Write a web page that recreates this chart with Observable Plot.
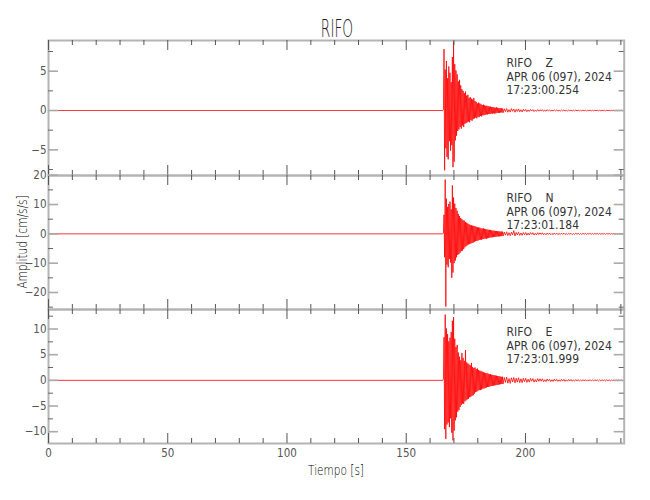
<!DOCTYPE html>
<html><head><meta charset="utf-8">
<script src="https://cdn.jsdelivr.net/npm/d3@7"></script>
<script src="https://cdn.jsdelivr.net/npm/@observablehq/plot@0.6"></script>
<style>
body{margin:0;background:#fff;}
#wrap{position:relative;width:650px;height:500px;overflow:hidden;font-family:"DejaVu Sans","Liberation Sans",sans-serif;color:#444;}
#wrap svg{position:absolute;left:0;}
.lbl{position:absolute;white-space:nowrap;line-height:1;font-weight:200;}
</style></head><body><div id="wrap"></div>
<script>
// ---- texts ----
const title = "RIFO";
const station = "RIFO";
const components = ["Z", "N", "E"];
const dateLabel = "APR 06 (097), 2024";
const startTimes = ["17:23:00.254", "17:23:01.184", "17:23:01.999"];
const xLabel = "Tiempo [s]";
const yLabel = "Amplitud [cm/s/s]";

// ---- scales / ticks ----
const xDomain = [0, 241.4];
const xMajorTicks = [0, 50, 100, 150, 200];
const xMinorTicks = [10, 20, 30, 40, 60, 70, 80, 90, 110, 120, 130, 140, 160, 170, 180, 190, 210, 220, 230, 240];
const yDomainZ = [-8.26, 8.9];
const yDomainN = [-25.8, 19.9];
const yDomainE = [-12.3, 13.8];
const yMajorZ = [-5, 0, 5];
const yMinorZ = [-7.5, -2.5, 2.5, 7.5];
const yMajorN = [-20, -10, 0, 10, 20];
const yMinorN = [-25, -15, -5, 5, 15];
const yMajorE = [-10, -5, 0, 5, 10];
const yMinorE = [-7.5, -2.5, 2.5, 7.5, 12.5];

// ---- waveform samples ----
const quietTimes = [0, 165.35];
const quietZ = [0, 0];
const quietN = [0, 0];
const quietE = [0, 0];
const denseStart = 165.6, denseStep = 0.25;
const codaStart = 190.6, codaStep = 0.5;

const denseZ = [0.1, 7.8, -7.6, 5.2, -4.8, 6.3, -5.9, 4.1, -6.2, 5.6,
 -3.9, 4.8, -5.1, 3.6, -4.4, 6.8, -7.2, 8.8, -6.5, 5.9,
 -3.8, 5.1, -3.2, 4.6, -2.6, 3.7, -2.4, 3.9, -2.1, 3.2,
 -2.3, 2.7, -1.9, 2.5, -2.1, 2.2, -1.7, 2.4, -1.6, 1.9,
 -1.5, 2.0, -1.4, 1.6, -1.5, 1.7, -1.2, 1.5, -1.3, 1.4,
 -1.1, 1.6, -1.0, 1.2, -0.9, 1.1, -1.0, 0.9, -0.8, 1.0,
 -0.85, 0.9, -0.7, 0.8, -0.75, 0.7, -0.6, 0.75, -0.6, 0.65,
 -0.55, 0.6, -0.5, 0.6, -0.5, 0.55, -0.45, 0.5, -0.45, 0.5,
 -0.4, 0.45, -0.4, 0.45, -0.35, 0.4, -0.4, 0.35, -0.35, 0.4,
 -0.3, 0.35, -0.3, 0.3, -0.3, 0.3, -0.25, 0.3, -0.25, 0.25];
const codaZ = [-0.28, 0.22, -0.15, 0.26, -0.22, 0.12, -0.2, 0.24, -0.1, 0.18, -0.22, 0.15, -0.12, 0.2, -0.16, 0.1, -0.18, 0.16, -0.08,
 0.14, -0.15, 0.08, -0.12, 0.14, -0.06, 0.12, -0.13, 0.05, -0.1, 0.12, -0.08, 0.1, -0.05, 0.11,
 -0.1, 0.04, -0.09, 0.1, -0.06, 0.08, -0.09, 0.05, -0.07, 0.09, -0.05, 0.07, -0.08, 0.04, -0.06,
 0.07, -0.05, 0.06, -0.07, 0.03, -0.06, 0.06, -0.04, 0.05, -0.06, 0.03, -0.05, 0.06, -0.04, 0.05, -0.05, 0.03, -0.05, 0.05, -0.03, 0.04, -0.05, 0.04, -0.03, 0.05, -0.04,
 0.03, -0.05, 0.04, -0.03, 0.04, -0.04, 0.03, -0.04, 0.04, -0.03, 0.03, -0.04, 0.04, -0.02, 0.03, -0.04, 0.03, -0.03, 0.04, -0.03, 0.02, -0.03, 0.03, -0.03, 0.03, -0.02];

const denseN = [0.2, 6.5, -8.0, 18.5, -24.8, 12.0, -10.5, 9.2, -11.4, 10.2,
 -8.6, 11.0, -9.8, 8.4, -15.0, 16.5, -13.2, 12.4, -10.0, 10.3,
 -9.1, 8.8, -8.0, 7.9, -7.2, 6.8, -6.9, 6.1, -6.4, 5.4,
 -5.9, 5.0, -5.7, 4.6, -5.2, 4.5, -4.6, 4.0, -4.2, 3.8,
 -3.9, 3.5, -3.6, 3.3, -3.5, 3.0, -3.3, 2.9, -3.1, 2.8,
 -3.0, 2.7, -2.7, 2.6, -2.5, 2.4, -2.4, 2.2, -2.3, 2.2,
 -2.1, 2.1, -2.0, 1.9, -2.0, 1.8, -1.8, 1.9, -1.7, 1.7,
 -1.6, 1.6, -1.7, 1.5, -1.5, 1.4, -1.4, 1.4, -1.3, 1.3,
 -1.2, 1.2, -1.2, 1.1, -1.1, 1.1, -1.0, 1.0, -1.0, 0.95,
 -0.9, 0.9, -0.9, 0.85, -0.85, 0.8, -0.8, 0.8, -0.75, 0.75];
const codaN = [-0.75, 0.6, -0.45, 0.7, -0.6, 0.4, -0.65, 0.55, -0.35, 1.1, -0.7, 0.5, -0.4, 0.55, -0.5, 0.3, -0.5, 0.45, -0.3,
 0.45, -0.45, 0.25, -0.4, 0.45, -0.2, 0.4, -0.4, 0.2, -0.35, 0.4, -0.25, 0.35, -0.2, 0.35,
 -0.3, 0.15, -0.3, 0.3, -0.2, 0.28, -0.3, 0.15, -0.25, 0.3, -0.18, 0.25, -0.25, 0.15, -0.22,
 0.25, -0.18, 0.22, -0.24, 0.12, -0.2, 0.22, -0.15, 0.2, -0.22, 0.1, -0.18, 0.2, -0.14, 0.18, -0.2, 0.1, -0.17, 0.18, -0.12, 0.16, -0.18, 0.12, -0.1, 0.17, -0.15,
 0.1, -0.16, 0.15, -0.1, 0.14, -0.15, 0.1, -0.14, 0.14, -0.1, 0.12, -0.14, 0.13, -0.08, 0.12, -0.13, 0.1, -0.1, 0.12, -0.11, 0.08, -0.1, 0.11, -0.09, 0.1, -0.08];

const denseE = [0.3, 8.4, -9.5, 12.8, -11.4, 10.1, -8.6, 9.0, -8.2, 7.6,
 -9.1, 8.3, -7.4, 9.4, -10.2, 11.6, -11.7, 12.3, -9.8, 8.1,
 -7.8, 6.5, -7.2, 6.9, -6.1, 5.4, -5.8, 4.6, -5.2, 3.9,
 -4.8, 5.3, -4.5, 4.4, -4.6, 3.8, -4.1, 5.9, -3.9, 3.5,
 -3.7, 3.3, -3.6, 3.1, -3.3, 2.9, -3.2, 3.4, -3.0, 2.6,
 -2.9, 2.4, -2.6, 2.5, -2.3, 2.2, -2.2, 2.3, -2.0, 2.0,
 -1.9, 1.9, -1.9, 1.8, -1.8, 1.7, -1.6, 1.6, -1.6, 1.5,
 -1.5, 1.4, -1.4, 1.4, -1.3, 1.3, -1.3, 1.2, -1.2, 1.2,
 -1.1, 1.1, -1.1, 1.05, -1.0, 1.0, -1.0, 0.95, -0.95, 0.9,
 -0.9, 0.85, -0.85, 0.8, -0.8, 0.75, -0.75, 0.7, -0.7, 0.7];
const codaE = [-0.7, 0.55, -0.4, 0.65, -0.55, 0.35, -0.6, 0.5, -0.3, 0.55, -0.5, 0.4, -0.35, 0.5, -0.45, 0.3, -0.45, 0.4, -0.25,
 0.4, -0.4, 0.22, -0.35, 0.38, -0.18, 0.35, -0.34, 0.16, -0.3, 0.34, -0.2, 0.3, -0.16, 0.3,
 -0.26, 0.12, -0.25, 0.26, -0.15, 0.22, -0.24, 0.12, -0.2, 0.24, -0.14, 0.2, -0.2, 0.1, -0.18,
 0.2, -0.14, 0.18, -0.19, 0.1, -0.16, 0.18, -0.12, 0.16, -0.17, 0.08, -0.14, 0.16, -0.11, 0.14, -0.15, 0.08, -0.13, 0.14, -0.1, 0.12, -0.14, 0.09, -0.08, 0.13, -0.11,
 0.08, -0.12, 0.12, -0.08, 0.1, -0.12, 0.08, -0.1, 0.11, -0.07, 0.09, -0.1, 0.1, -0.06, 0.09, -0.1, 0.08, -0.07, 0.09, -0.08, 0.06, -0.08, 0.08, -0.07, 0.08, -0.06];

// ---- build ----
function trace(quiet, dense, coda) {
  const pts = [];
  quietTimes.forEach((t, i) => pts.push({t, a: quiet[i]}));
  dense.forEach((a, i) => pts.push({t: denseStart + i * denseStep, a}));
  coda.forEach((a, i) => pts.push({t: codaStart + i * codaStep, a}));
  return pts;
}

const FONT = '"DejaVu Sans Condensed","Liberation Sans",sans-serif';
const ML = 48, MR = 26.3, W = 650;
const wrap = document.getElementById("wrap");

function panel({data, yDomain, yMajor, yMinor, comp, time, top, height, marginTop, marginBottom, showX}) {
  const fw = W - ML - MR;
  const fh = height - marginTop - marginBottom;
  const marks = [
    Plot.line(data, {x: "t", y: "a", stroke: "#ff0000", strokeWidth: 0.8, clip: true}),
    Plot.frame({stroke: "#b4b4b4", strokeWidth: 2}),
    Plot.ruleX(xMinorTicks, {stroke: "#555", insetBottom: fh - 5}),
    Plot.ruleX(xMinorTicks, {stroke: "#555", insetTop: fh - 5}),
    Plot.ruleX(xMajorTicks, {stroke: "#555", insetBottom: fh - 10}),
    Plot.ruleX(xMajorTicks, {stroke: "#555", insetTop: fh - 10}),
    Plot.ruleY(yMinor, {stroke: "#666", insetRight: fw - 5}),
    Plot.ruleY(yMinor, {stroke: "#666", insetLeft: fw - 5}),
    Plot.ruleY(yMajor, {stroke: "#aaa", strokeWidth: 1.6, insetRight: fw - 10}),
    Plot.ruleY(yMajor, {stroke: "#aaa", strokeWidth: 1.6, insetLeft: fw - 10}),
    Plot.axisY(yMajor, {tickSize: 0, tickPadding: 2, label: null, fill: "#555", fontSize: 11.5}),
    Plot.text([`${station}\u00a0\u00a0\u00a0\u00a0${comp}\n${dateLabel}\n${time}`], {
      frameAnchor: "top-left", dx: 458, dy: 17, textAnchor: "start", lineAnchor: "top",
      lineHeight: 1.125, fontSize: 12, fill: "#333"
    })
  ];
  if (showX) marks.push(Plot.axisX(xMajorTicks, {tickSize: 0, tickPadding: 5, label: null, fill: "#555", fontSize: 11.5}));
  const svg = Plot.plot({
    width: W, height, marginLeft: ML, marginRight: MR, marginTop, marginBottom,
    x: {domain: xDomain, axis: showX ? undefined : null},
    y: {domain: yDomain},
    style: {fontFamily: FONT, fontSize: "12px", color: "#444", background: "transparent", overflow: "visible"},
    marks
  });
  svg.style.top = top + "px";
  wrap.appendChild(svg);
}

panel({data: trace(quietZ, denseZ, codaZ), yDomain: yDomainZ, yMajor: yMajorZ, yMinor: yMinorZ,
  comp: components[0], time: startTimes[0], top: 0, height: 175, marginTop: 40, marginBottom: 0, showX: false});
panel({data: trace(quietN, denseN, codaN), yDomain: yDomainN, yMajor: yMajorN, yMinor: yMinorN,
  comp: components[1], time: startTimes[1], top: 175, height: 134, marginTop: 0, marginBottom: 0, showX: false});
panel({data: trace(quietE, denseE, codaE), yDomain: yDomainE, yMajor: yMajorE, yMinor: yMinorE,
  comp: components[2], time: startTimes[2], top: 309, height: 191, marginTop: 0, marginBottom: 57, showX: true});

function label(text, css) {
  const d = document.createElement("div");
  d.className = "lbl";
  d.textContent = text;
  Object.assign(d.style, css);
  wrap.appendChild(d);
}
label(title, {left: "337px", top: "28px", fontSize: "25px", color: "#222", transform: "translate(-50%,-50%) scaleX(0.55)"});
label(xLabel, {left: "336px", top: "471px", fontSize: "13.5px", color: "#000", transform: "translate(-50%,-50%) scaleX(0.78)"});
label(yLabel, {left: "23px", top: "242px", fontSize: "13.5px", color: "#000", transform: "translate(-50%,-50%) rotate(-90deg) scaleX(0.78)"});
</script></body></html>
